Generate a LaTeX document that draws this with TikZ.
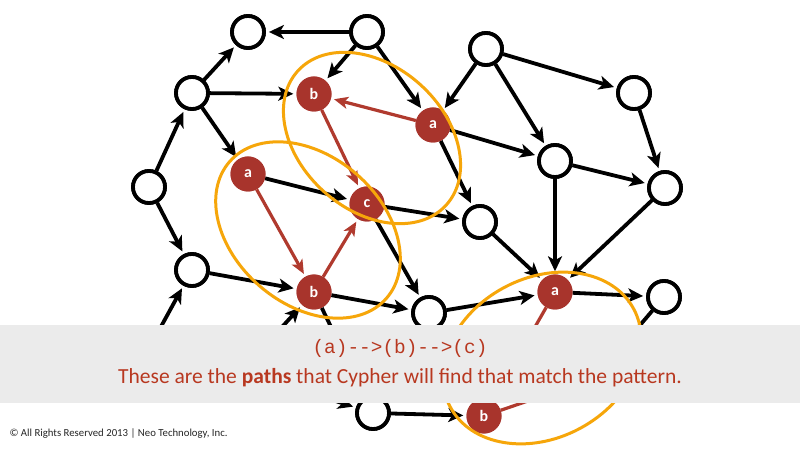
\documentclass[tikz,border=0pt]{standalone}
\usepackage{fontspec}
\setmainfont{Carlito}
\newfontfamily\monofnt{Liberation Mono}
\usetikzlibrary{arrows.meta}
\definecolor{redn}{RGB}{168,52,44}
\definecolor{redl}{RGB}{176,58,46}
\definecolor{orng}{RGB}{246,166,10}
\definecolor{txtred}{RGB}{184,56,32}
\definecolor{bandgray}{RGB}{235,235,235}
\begin{document}
\begin{tikzpicture}[x=1bp,y=-1bp,
 wn/.style={circle,draw=black,line width=3.8bp,fill=white,minimum size=32bp,inner sep=0pt},
 rn/.style={circle,fill=redn,minimum size=35bp,inner sep=0pt,text=white,font=\fontsize{16}{16}\selectfont\bfseries},
 ed/.style={draw=black,line width=3.8bp,-{Stealth[length=15bp,width=14bp,inset=4bp]},shorten >=3bp},
 rd/.style={draw=redl,line width=3.2bp,-{Stealth[length=14bp,width=12bp,inset=3.5bp]},shorten >=3bp},
 oval/.style={draw=orng,line width=3bp}]
\useasboundingbox (0,0) rectangle (800,450);
\fill[white] (0,0) rectangle (800,450);
% hidden coordinates under the band
\coordinate (hA) at (140,365);
\coordinate (hB) at (250,362);
\coordinate (hC) at (270,380);
\coordinate (c3) at (595,378);
% white nodes
\node[wn] (n1) at (248,32) {};
\node[wn] (n2) at (367,32) {};
\node[wn] (n3) at (192,93) {};
\node[wn] (n4) at (486,49) {};
\node[wn] (n5) at (634,93) {};
\node[wn] (n6) at (149,187) {};
\node[wn] (n7) at (192,270) {};
\node[wn] (n8) at (429,313) {};
\node[wn] (n9) at (555,161) {};
\node[wn] (n10) at (665,188) {};
\node[wn] (n11) at (480,222) {};
\node[wn] (n12) at (664,297) {};
\node[wn] (n13) at (373,413) {};
% red nodes
\node[rn] (b1) at (314,94) {b};
\node[rn] (a1) at (433,125) {a};
\node[rn] (a2) at (248,174) {a};
\node[rn] (c1) at (367,204) {c};
\node[rn] (b2) at (314,292) {b};
\node[rn] (a3) at (555,292) {a};
\node[rn] (b3) at (484,416) {b};
% black edges
\draw[ed] (n2) -- (n1);
\draw[ed] (n3) -- (n1);
\draw[ed] (n3) -- (b1);
\draw[ed] (n3) -- (a2);
\draw[ed] (n6) -- (n3);
\draw[ed] (n2) -- (b1);
\draw[ed] (n2) -- (a1);
\draw[ed] (n4) -- (a1);
\draw[ed] (n4) -- (n9);
\draw[ed] (n4) -- (n5);
\draw[ed] (a1) -- (n9);
\draw[ed] (a1) -- (n11);
\draw[ed] (n5) -- (n10);
\draw[ed] (n9) -- (n10);
\draw[ed] (n9) -- (a3);
\draw[ed] (n10) -- (a3);
\draw[ed] (n11) -- (a3);
\draw[ed] (c1) -- (n11);
\draw[ed] (n8) -- (a3);
\draw[ed] (a3) -- (n12);
\draw[ed] (n12) -- (c3);
\draw[ed] (c1) -- (n8);
\draw[ed] (b2) -- (n8);
\draw[ed] (a2) -- (c1);
\draw[ed] (n6) -- (n7);
\draw[ed] (n7) -- (b2);
\draw[ed] (hA) -- (n7);
\draw[ed] (hB) -- (b2);
\draw[ed] (b2) -- (n13);
\draw[ed] (hC) -- (n13);
\draw[ed] (n13) -- (b3);
% red edges
\draw[rd] (a1) -- (b1);
\draw[rd] (b1) -- (c1);
\draw[rd] (a2) -- (b2);
\draw[rd] (b2) -- (c1);
\draw[rd] (a3) -- (b3);
\draw[rd] (b3) -- (c3);
% redraw nodes on top of edges
\foreach \x/\y in {248/32,367/32,192/93,486/49,634/93,149/187,192/270,429/313,555/161,665/188,480/222,664/297,373/413}
  \node[wn] at (\x,\y) {};
\foreach \x/\y/\l in {314/94/b,433/125/a,248/174/a,367/204/c,314/292/b,555/292/a,484/416/b}
  \node[rn] at (\x,\y) {\l};
% orange ellipses
\draw[oval,shift={(372,138)},rotate=-42] (0,0) ellipse [x radius=100bp,y radius=72bp];
\draw[oval,shift={(308,230)},rotate=-41] (0,0) ellipse [x radius=104bp,y radius=74bp];
\draw[oval,shift={(542,358)},rotate=28] (0,0) ellipse [x radius=104bp,y radius=80bp];
% band
\fill[bandgray] (0,325) rectangle (800,403);
\node[font=\monofnt\fontsize{19.5}{19.5}\selectfont,text=txtred] (t1) at (400,348) {(a)-{}-{}>(b)-{}-{}>(c)};
\node[font=\fontsize{21.6}{21.6}\selectfont,text=txtred] (t2) at (400,378) {These are the \textbf{paths} that Cypher will find that match the pattern.};
\node[anchor=west,font=\fontsize{10.8}{10.8}\selectfont,text=black!85] (cp) at (6,434) {© All Rights Reserved 2013 | Neo Technology, Inc.};
\end{tikzpicture}
\end{document}
